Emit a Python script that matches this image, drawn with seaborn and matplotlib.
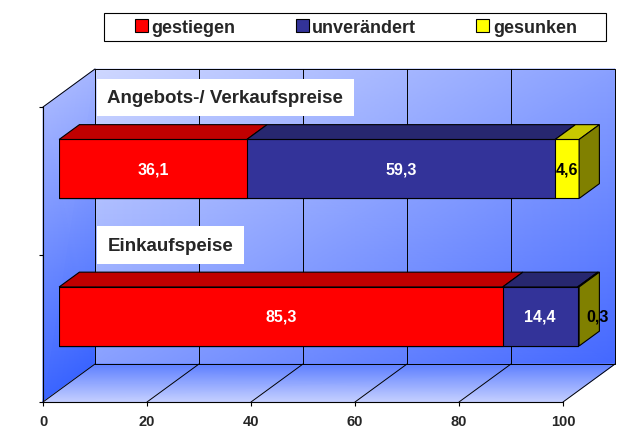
import numpy as np
import pandas as pd
import matplotlib.pyplot as plt
import seaborn as sns
from matplotlib.patches import Polygon, Patch, Rectangle
from matplotlib.colors import LinearSegmentedColormap

# Daten
kategorien = ['Angebots-/ Verkaufspreise', 'Einkaufspeise']
serien = ['gestiegen', 'unverändert', 'gesunken']
gestiegen = [36.1, 85.3]
unveraendert = [59.3, 14.4]
gesunken = [4.6, 0.3]
x_ticks = [0, 20, 40, 60, 80, 100]

farben_vorne = ['#FF0000', '#333399', '#FFFF00']
farben_oben = ['#C00000', '#27276F', '#C8C800']
farben_seite = ['#A00000', '#1E1E5A', '#808000']
text_farben = ['white', 'white', 'black']

# Geometrie (Pixel)
FIG_W, FIG_H = 641, 431
FRONT_LEFT, FRONT_TOP, FRONT_W, FRONT_H = 43, 108, 520, 295
TIEFE_PX = (52, 38)          # Verschiebung Vorderkante -> Rückwand
BALKEN_START, BALKEN_TIEFE = 0.31, 0.39
BALKEN_BREITE = 0.4


def fig_rect(left, top, w, h):
    return [left / FIG_W, 1 - (top + h) / FIG_H, w / FIG_W, h / FIG_H]


def main():
    sns.set_style('white')
    plt.rcParams['font.family'] = ['Liberation Sans', 'DejaVu Sans']

    n = len(kategorien)
    px_x = FRONT_W / 100
    px_y = FRONT_H / n
    dx = TIEFE_PX[0] / px_x
    dy = TIEFE_PX[1] / px_y

    fig = plt.figure(figsize=(FIG_W / 100, FIG_H / 100), dpi=100)
    fig.patch.set_facecolor('white')

    # ---------------------------------------------------------
    # Rahmen: Wände, Boden, Achsen
    # ---------------------------------------------------------
    ax = fig.add_axes(fig_rect(FRONT_LEFT, FRONT_TOP, FRONT_W, FRONT_H))
    ax.set_facecolor('none')

    def wand(X, Y, C, hell, dunkel):
        cmap = LinearSegmentedColormap.from_list('w', [hell, dunkel])
        m = ax.pcolormesh(np.array(X), np.array(Y), np.array(C), shading='gouraud',
                          cmap=cmap, vmin=0, vmax=1, zorder=0)
        m.set_clip_on(False)

    # Rückwand (diagonaler Verlauf)
    wand([[dx, 100 + dx], [dx, 100 + dx]], [[dy, dy], [n + dy, n + dy]],
         [[0.5, 1.0], [0.0, 0.5]], '#CFD8FF', '#4468FF')
    # linke Wand
    wand([[0, dx], [0, dx]], [[0, dy], [n, n + dy]],
         [[1, 1], [0, 0]], '#A6B6FF', '#3A64FF')
    # Boden
    wand([[0, 100], [dx, 100 + dx]], [[0, 0], [dy, dy]],
         [[1, 1], [0, 0]], '#5C7EFF', '#C6D0FF')

    lk = dict(color='black', lw=0.7, clip_on=False, zorder=1)
    ax.plot([dx, 100 + dx, 100 + dx, dx, dx], [dy, dy, n + dy, n + dy, dy], **lk)
    ax.plot([0, dx], [n, n + dy], **lk)
    for v in x_ticks:
        ax.plot([v, v + dx], [0, dy], **lk)
    for v in x_ticks[1:-1]:
        ax.plot([v + dx, v + dx], [dy, n + dy], **lk)

    # Kategorie-Beschriftungen auf der Rückwand
    for i, kat in enumerate(kategorien):
        ax.text(dx + 2.4, n - i + 0.064, kat, ha='left', va='center',
                fontsize=13.5, fontweight='bold', zorder=2, clip_on=False,
                bbox=dict(boxstyle='square,pad=0.55', fc='white', ec='none'))

    ax.set_xlim(0, 100)
    ax.set_ylim(0, n)
    ax.set_xticks(x_ticks)
    ax.set_xticklabels([str(v) for v in x_ticks], fontsize=10.5, fontweight='bold')
    ax.set_yticks(range(n + 1))
    ax.set_yticklabels([])
    ax.tick_params(axis='both', direction='out', length=3, width=0.8, color='black',
                   left=True, bottom=True)
    ax.tick_params(axis='x', pad=6)
    for s in ['top', 'right']:
        ax.spines[s].set_visible(False)
    for s in ['left', 'bottom']:
        ax.spines[s].set_color('black')
        ax.spines[s].set_linewidth(0.8)
        ax.spines[s].set_zorder(3)
    ax.grid(False)

    # ---------------------------------------------------------
    # Balken (gestapelt über kumulierte Summen)
    # ---------------------------------------------------------
    versatz_x = FRONT_LEFT + BALKEN_START * TIEFE_PX[0]
    versatz_top = FRONT_TOP - BALKEN_START * TIEFE_PX[1]
    axb = fig.add_axes(fig_rect(versatz_x, versatz_top, FRONT_W, FRONT_H))
    axb.set_facecolor('none')

    werte = np.array([gestiegen, unveraendert, gesunken])
    kum = np.cumsum(werte, axis=0)
    df = pd.DataFrame({'kategorie': kategorien})
    for s, name in enumerate(serien):
        df[name] = kum[s]

    for s in reversed(range(len(serien))):
        sns.barplot(data=df, x=serien[s], y='kategorie', orient='h',
                    color=farben_vorne[s], saturation=1, width=BALKEN_BREITE,
                    edgecolor='black', linewidth=0.8, errorbar=None, ax=axb)

    bdx = BALKEN_TIEFE * dx
    bdy = BALKEN_TIEFE * dy
    for i in range(n):
        y_top = i - BALKEN_BREITE / 2
        y_bot = i + BALKEN_BREITE / 2
        for s in range(len(serien)):
            x0 = kum[s, i] - werte[s, i]
            x1 = kum[s, i]
            axb.add_patch(Polygon([(x0, y_top), (x1, y_top), (x1 + bdx, y_top - bdy),
                                   (x0 + bdx, y_top - bdy)], closed=True,
                                  fc=farben_oben[s], ec='black', lw=0.8, clip_on=False))
            if werte[s, i] >= 1:
                xt = (x0 + x1) / 2
            else:
                xt = x1 + bdx * 0.9
            axb.text(xt, i, f'{werte[s, i]:.1f}'.replace('.', ','), ha='center', va='center',
                     fontsize=11.5, fontweight='bold', color=text_farben[s], zorder=5,
                     clip_on=False)
        xe = kum[-1, i]
        axb.add_patch(Polygon([(xe, y_top), (xe + bdx, y_top - bdy), (xe + bdx, y_bot - bdy),
                               (xe, y_bot)], closed=True, fc=farben_seite[-1], ec='black',
                              lw=0.8, clip_on=False))

    axb.set_xlim(0, 100)
    axb.set_ylim(n - 0.5, -0.5)
    axb.set_axis_off()

    # ---------------------------------------------------------
    # Legende
    # ---------------------------------------------------------
    handles = [Patch(fc=c, ec='black', lw=0.8) for c in farben_vorne]
    fig.legend(handles, serien, loc='center', ncol=3, mode='expand', frameon=False,
               bbox_to_anchor=(135 / FIG_W, 1 - 42 / FIG_H, 442 / FIG_W, 28 / FIG_H),
               borderpad=0, borderaxespad=0, handlelength=0.72, handleheight=0.72,
               handletextpad=0.2, prop=dict(weight='bold', size=13))
    fig.add_artist(Rectangle((104 / FIG_W, 1 - 42 / FIG_H), 502 / FIG_W, 28 / FIG_H,
                             transform=fig.transFigure, fill=False, ec='black', lw=0.8))

    fig.savefig('out.png', dpi=100)
    plt.close(fig)


if __name__ == '__main__':
    main()
